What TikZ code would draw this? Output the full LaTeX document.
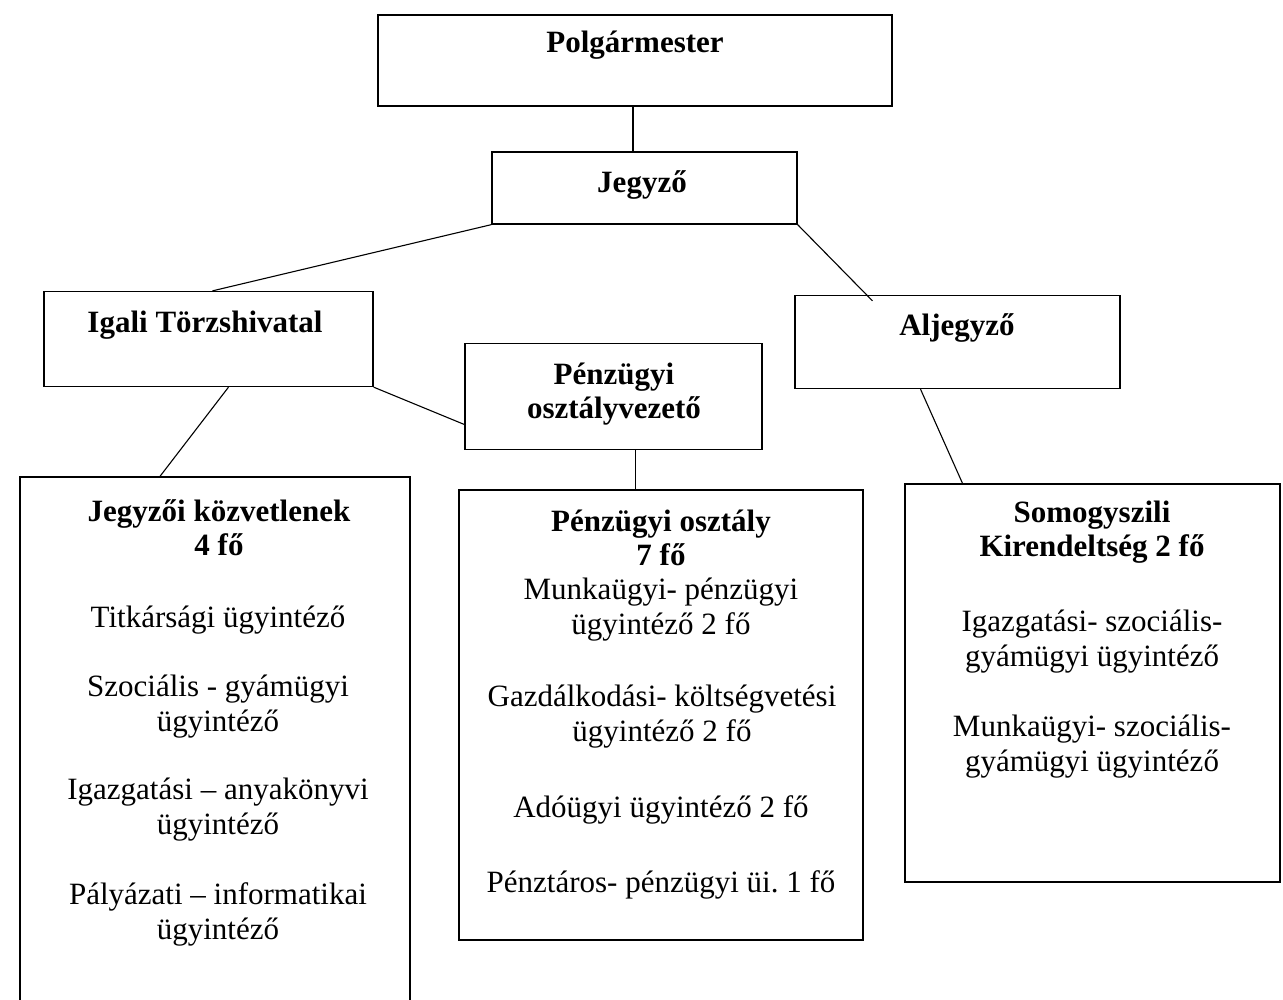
\documentclass[tikz,border=0pt]{standalone}
\usepackage{fontspec}
\setmainfont{Liberation Serif}
\frenchspacing
\begin{document}
\begin{tikzpicture}[x=1pt,y=-1pt,
  box/.style={draw, line width=1.3pt, inner sep=0pt, rectangle},
  lbl/.style={font=\fontsize{31}{35}\selectfont, align=center, inner sep=0pt},
  blbl/.style={font=\fontsize{31}{34}\selectfont\bfseries, align=center, inner sep=0pt},
  conn/.style={line width=1.1pt}]
\useasboundingbox (0,0) rectangle (1283,1000);
\clip (0,0) rectangle (1283,1000);
% boxes
\node[box, minimum width=514pt, minimum height=91pt] (polg) at (635,60.5) {};
\node[box, minimum width=305pt, minimum height=72pt] (jegyzo) at (644.5,188) {};
\node[box, minimum width=329pt, minimum height=95pt] (igali) at (208.5,339) {};
\node[box, minimum width=325pt, minimum height=93pt] (aljegyzo) at (957.5,342) {};
\node[box, minimum width=297pt, minimum height=106pt] (penzvez) at (613.5,396.5) {};
\node[box, minimum width=390pt, minimum height=543pt] (jk) at (215,748.5) {};
\node[box, minimum width=404pt, minimum height=450pt] (penzo) at (661,715) {};
\node[box, minimum width=375pt, minimum height=398pt] (somogy) at (1092.5,683) {};
% texts
\node[blbl] (polgt) at (635,45) {Polgármester};
\node[blbl] (jegyt) at (642,185) {Jegyző};
\node[blbl] (igalit) at (205,325) {Igali Törzshivatal};
\node[blbl] (aljt) at (957,328) {Aljegyző};
\node[blbl] (penzvt) at (614,394) {Pénzügyi\\osztályvezető};
\node[blbl] (jk1) at (219,528) {Jegyzői közvetlenek\\4 fő};
\node[lbl] (jk2) at (218,620) {Titkársági ügyintéző};
\node[lbl] (jk3) at (218,707) {Szociális - gyámügyi\\ügyintéző};
\node[lbl] (jk4) at (218,810) {Igazgatási – anyakönyvi\\ügyintéző};
\node[lbl] (jk5) at (218,914) {Pályázati – informatikai\\ügyintéző};
\node[blbl] (po1) at (661,538) {Pénzügyi osztály\\7 fő};
\node[lbl] (po2) at (661,610) {Munkaügyi- pénzügyi\\ügyintéző 2 fő};
\node[lbl] (po3) at (662,717) {Gazdálkodási- költségvetési\\ügyintéző 2 fő};
\node[lbl] (po4) at (661,810) {Adóügyi ügyintéző 2 fő};
\node[lbl] (po5) at (661,885) {Pénztáros- pénzügyi üi. 1 fő};
\node[blbl] (so1) at (1092,532) {Somogyszili\\Kirendeltség 2 fő};
\node[lbl] (so2) at (1092,642) {Igazgatási- szociális-\\gyámügyi ügyintéző};
\node[lbl] (so3) at (1092,747) {Munkaügyi- szociális-\\gyámügyi ügyintéző};
% connectors
\draw[conn] ([xshift=-2pt]polg.south) -- ([xshift=-2pt]polg.south |- jegyzo.north);
\draw[conn] (jegyzo.south west) -- ([xshift=4pt]igali.north);
\draw[conn] (jegyzo.south east) -- ([xshift=-85pt,yshift=-6pt]aljegyzo.north);
\draw[conn] (igali.south east) -- ([yshift=-28pt]penzvez.west);
\draw[conn] ([xshift=20pt]igali.south) -- ([xshift=-55pt]jk.north);
\draw[conn] ([xshift=22pt]penzvez.south) -- ([xshift=22pt]penzvez.south |- penzo.north);
\draw[conn] ([xshift=-37pt]aljegyzo.south) -- ([xshift=-130pt]somogy.north);
\end{tikzpicture}
\end{document}
